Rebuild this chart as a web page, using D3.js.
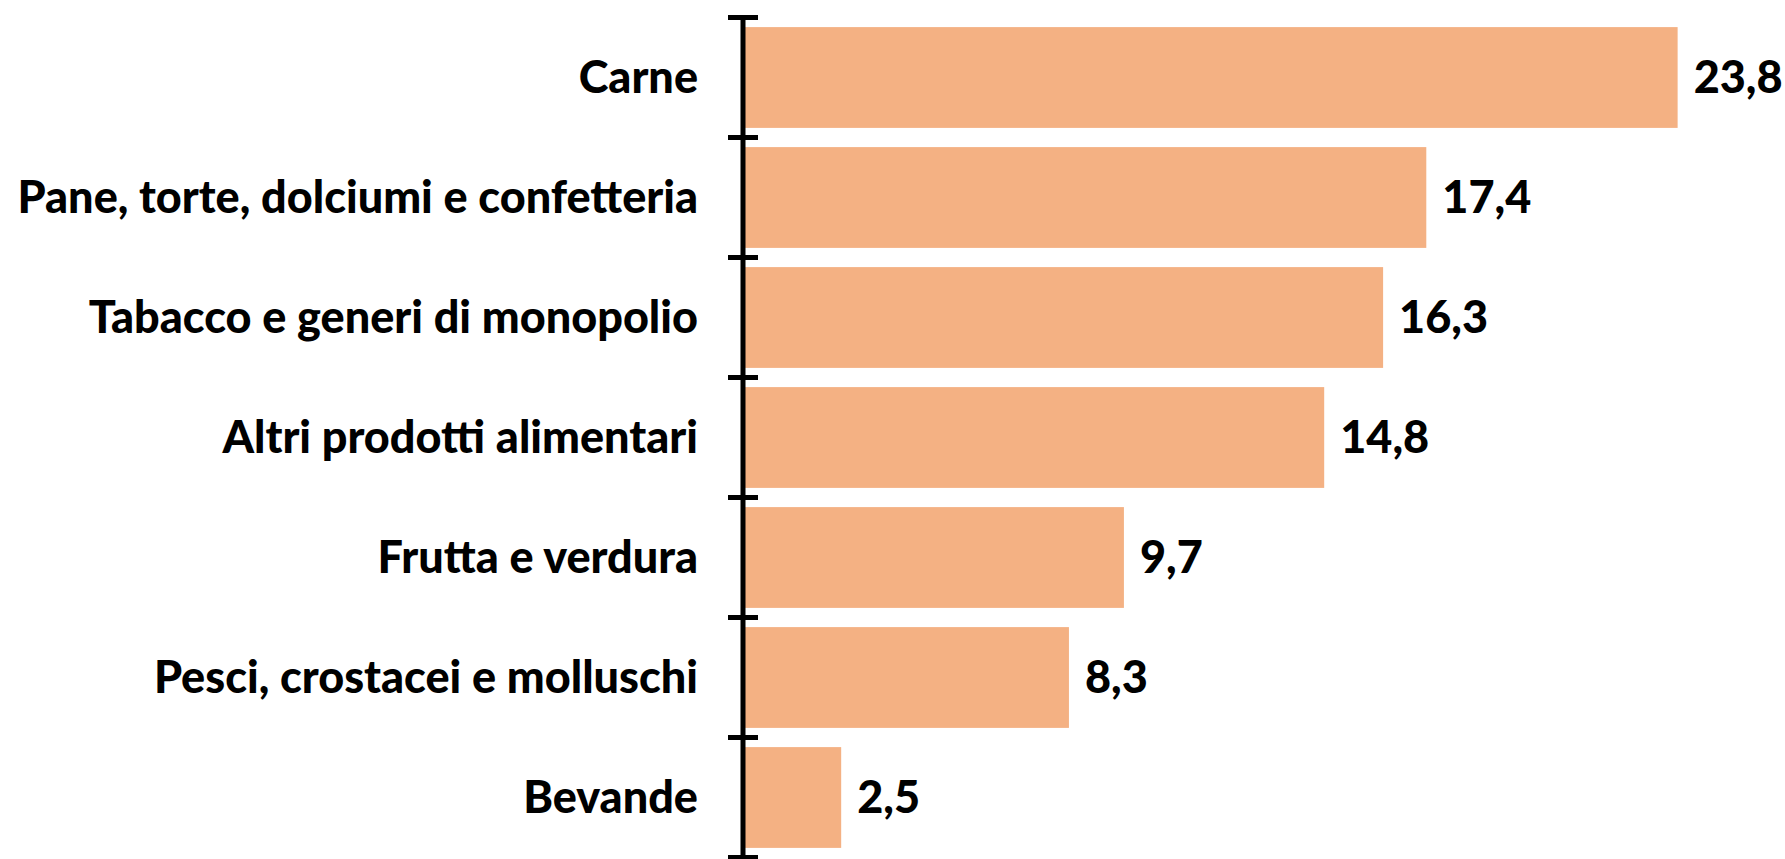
<!DOCTYPE html>
<html>
<head>
<meta charset="utf-8">
<script src="https://cdn.jsdelivr.net/npm/d3@7"></script>
<style>
  html, body { margin: 0; padding: 0; background: #fff; }
  svg { display: block; }
  text { font-family: Lato, "Open Sans", sans-serif; font-weight: 900; fill: #000; }
</style>
</head>
<body>
<div class="chart"></div>
<script>
const categories = [
  "Carne",
  "Pane, torte, dolciumi e confetteria",
  "Tabacco e generi di monopolio",
  "Altri prodotti alimentari",
  "Frutta e verdura",
  "Pesci, crostacei e molluschi",
  "Bevande"
];
const values = [23.8, 17.4, 16.3, 14.8, 9.7, 8.3, 2.5];
const valueLabels = ["23,8", "17,4", "16,3", "14,8", "9,7", "8,3", "2,5"];

const width = 1785,
    height = 859,
    margin = ({ top: 17.5, right: 60, bottom: 1.5, left: 743 });

const data = categories.map((c, i) => ({ cat: c, value: values[i], label: valueLabels[i] }));

const x = d3.scaleLinear()
    .domain([0, 25])
    .range([margin.left, margin.left + 25 * 39.27]);

const y = d3.scaleBand()
    .domain(categories)
    .range([margin.top, height - margin.bottom])
    .paddingInner(0.16)
    .paddingOuter(0.08);

const svg = d3.select(".chart").append("svg")
    .attr("width", width)
    .attr("height", height)
    .attr("viewBox", [0, 0, width, height]);

// bars
svg.append("g")
    .attr("fill", "#F4B183")
  .selectAll("rect")
  .data(data)
  .join("rect")
    .attr("x", x(0))
    .attr("y", d => y(d.cat))
    .attr("width", d => x(d.value) - x(0))
    .attr("height", y.bandwidth());

// value labels
svg.append("g")
    .attr("font-size", 45)
  .selectAll("text")
  .data(data)
  .join("text")
    .attr("x", d => x(d.value) + 16)
    .attr("y", d => y(d.cat) + y.bandwidth() / 2)
    .attr("dy", "0.35em")
    .text(d => d.label);

// category axis, ticks crossing the line between bands
const tickY = d3.range(categories.length + 1).map(i => margin.top + i * y.step());

const axis = svg.append("g")
    .attr("stroke", "#000")
    .attr("stroke-width", 5);

axis.append("line")
    .attr("x1", x(0)).attr("x2", x(0))
    .attr("y1", tickY[0]).attr("y2", tickY[tickY.length - 1]);

axis.selectAll(".tick")
  .data(tickY)
  .join("line")
    .attr("class", "tick")
    .attr("x1", x(0) - 15).attr("x2", x(0) + 15)
    .attr("y1", d => d).attr("y2", d => d);

svg.append("g")
    .attr("font-size", 45)
    .attr("text-anchor", "end")
  .selectAll("text")
  .data(categories)
  .join("text")
    .attr("x", x(0) - 45)
    .attr("y", d => y(d) + y.bandwidth() / 2)
    .attr("dy", "0.35em")
    .text(d => d);
</script>
</body>
</html>
